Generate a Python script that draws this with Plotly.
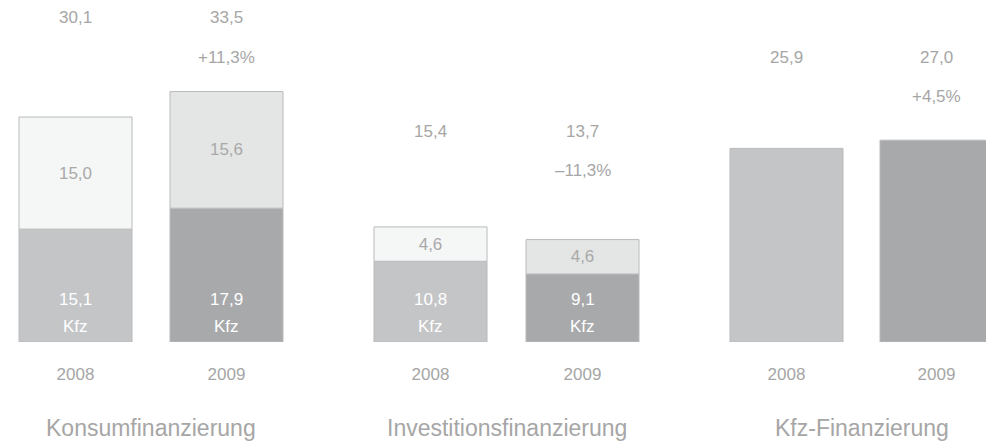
import plotly.graph_objects as go

groups = ["Konsumfinanzierung", "Investitionsfinanzierung", "Kfz-Finanzierung"]
years = ["2008", "2009"]
kfz_values = [[15.1, 17.9], [10.8, 9.1], [25.9, 27.0]]
other_values = [[15.0, 15.6], [4.6, 4.6], [None, None]]
totals = [[30.1, 33.5], [15.4, 13.7], [25.9, 27.0]]
changes = ["+11,3%", "\u201311,3%", "+4,5%"]
kfz_label = "Kfz"

def fmt(v):
    return f"{v:.1f}".replace(".", ",")

W, H = 986, 441
BASE = 342            # pixel row of bar base
SCALE = 7.475         # pixels per unit
BAR_W = 113
group_left = [75.5, 430.5, 786.5]   # center of 2008 bar per group
year_step = [151, 152, 150]

dark_cols = ["#c4c5c7", "#a8a9ab"]
light_cols = ["#f5f6f6", "#e4e5e5"]
edge = "#b9babc"
txt = "#a6a6a6"
FONT = "Liberation Sans"

def yv(pix):
    return (BASE - pix) / SCALE

fig = go.Figure()
xs_all, tick_text = [], []
annotations = []
label_rows = [(17, 57), (131, 170), (57, 96)]

for gi, g in enumerate(groups):
    xs = [group_left[gi] + yi * year_step[gi] for yi in range(len(years))]
    xs_all += xs
    tick_text += years
    for yi in range(len(years)):
        fig.add_trace(go.Bar(
            x=[xs[yi]], y=[kfz_values[gi][yi]], width=BAR_W,
            marker=dict(color=dark_cols[yi], line=dict(color=edge, width=1)),
            showlegend=False, hoverinfo="skip"))
        if other_values[gi][yi] is not None:
            fig.add_trace(go.Bar(
                x=[xs[yi]], y=[other_values[gi][yi]], width=BAR_W,
                base=[kfz_values[gi][yi]],
                marker=dict(color=light_cols[yi], line=dict(color=edge, width=1)),
                text=[fmt(other_values[gi][yi])], textposition="inside",
                insidetextanchor="middle", textangle=0,
                textfont=dict(family=FONT, size=17, color="#a9a9a9"),
                showlegend=False, hoverinfo="skip"))
            annotations.append(dict(x=xs[yi], y=yv(299), xref="x", yref="y",
                                    text=fmt(kfz_values[gi][yi]), showarrow=False,
                                    font=dict(family=FONT, size=17, color="white")))
            annotations.append(dict(x=xs[yi], y=yv(326), xref="x", yref="y",
                                    text=kfz_label, showarrow=False,
                                    font=dict(family=FONT, size=17, color="white")))
        annotations.append(dict(x=xs[yi], y=yv(label_rows[gi][0]), xref="x", yref="y",
                                text=fmt(totals[gi][yi]), showarrow=False,
                                font=dict(family=FONT, size=17, color=txt)))
    annotations.append(dict(x=xs[1], y=yv(label_rows[gi][1]), xref="x", yref="y",
                            text=changes[gi], showarrow=False,
                            font=dict(family=FONT, size=17, color=txt)))
    annotations.append(dict(x=(xs[0] + xs[1]) / 2, y=-(428 - BASE) / BASE,
                            xref="x", yref="paper", yanchor="middle",
                            text=g, showarrow=False,
                            font=dict(family=FONT, size=23, color=txt)))

fig.update_layout(
    width=W, height=H, barmode="overlay",
    margin=dict(l=0, r=0, t=0, b=H - BASE),
    paper_bgcolor="white", plot_bgcolor="white",
    annotations=annotations,
    xaxis=dict(range=[0, W], tickvals=xs_all, ticktext=tick_text,
               showgrid=False, zeroline=False, showline=False,
               ticks="", ticklabelstandoff=20,
               tickfont=dict(family=FONT, size=17, color=txt)),
    yaxis=dict(range=[0, BASE / SCALE], visible=False),
)
fig.write_html("out.html", config={"displayModeBar": False},
               post_script="document.body.style.margin='0';document.body.style.overflow='hidden';")
